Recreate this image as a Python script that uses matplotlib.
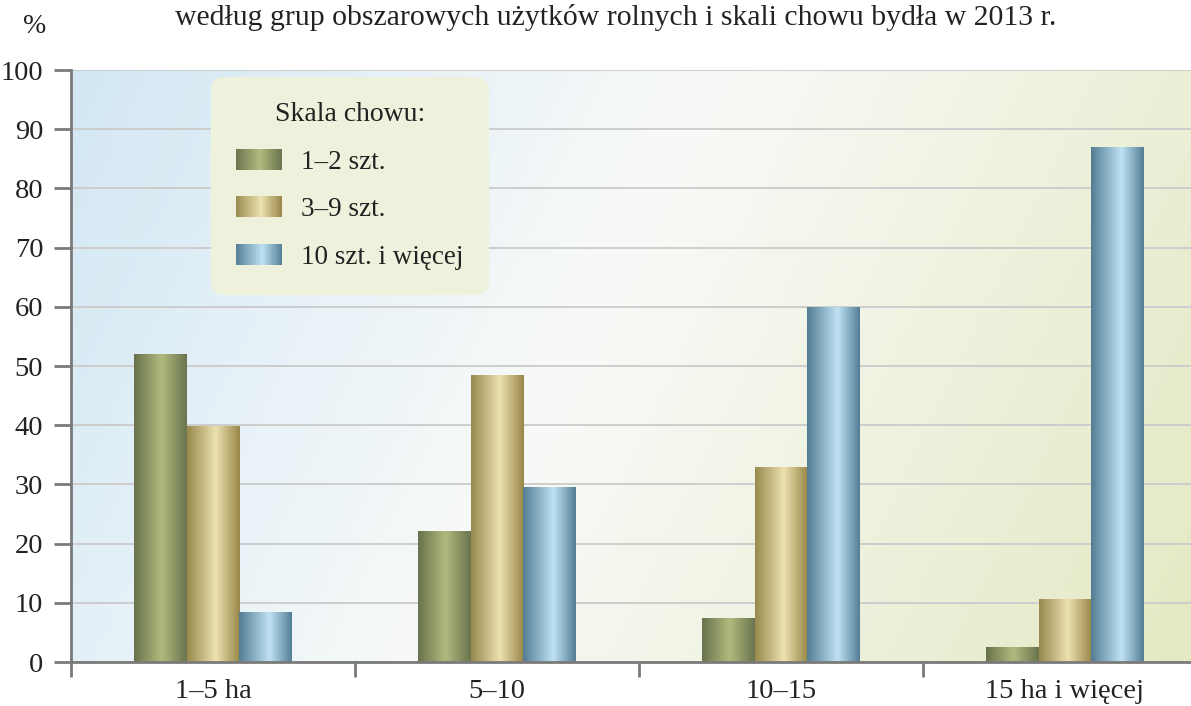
import numpy as np
import matplotlib
matplotlib.use("Agg")
import matplotlib.pyplot as plt
from matplotlib.colors import LinearSegmentedColormap
from matplotlib.legend_handler import HandlerBase
from matplotlib.patches import Rectangle

plt.rcParams['font.family'] = ['Liberation Serif', 'DejaVu Serif']

categories = ['1–5 ha', '5–10', '10–15', '15 ha i więcej']
series_labels = ['1–2 szt.', '3–9 szt.', '10 szt. i więcej']
small_herd = [52.1, 22.2, 7.5, 2.5]
mid_herd = [39.8, 48.4, 33.0, 10.7]
large_herd = [8.5, 29.5, 60.0, 87.0]
yticks = list(range(0, 101, 10))

title = 'według grup obszarowych użytków rolnych i skali chowu bydła w 2013 r.'

cmaps = [
    LinearSegmentedColormap.from_list('g', [(0, '#69734d'), (0.52, '#b1ba7d'), (1, '#6b754f')]),
    LinearSegmentedColormap.from_list('b', [(0, '#9a8a4f'), (0.55, '#ece1b0'), (1, '#988748')]),
    LinearSegmentedColormap.from_list('c', [(0, '#547d94'), (0.58, '#bfe2f3'), (1, '#557f97')]),
]
bg_cmap = LinearSegmentedColormap.from_list(
    'bg', [(0, '#d2e7f3'), (0.2, '#e4f0f7'), (0.45, '#f8faf8'), (1, '#e3e9c2')])


class GradientHandler(HandlerBase):
    def __init__(self, cmap):
        super().__init__()
        self.cmap = cmap

    def create_artists(self, legend, orig_handle, xdescent, ydescent,
                       width, height, fontsize, trans):
        n = 30
        arts = []
        for i in range(n):
            r = Rectangle((-xdescent + width * i / n, -ydescent), width / n + 0.3, height,
                          facecolor=self.cmap((i + 0.5) / n), edgecolor='none',
                          transform=trans)
            arts.append(r)
        return arts


fig = plt.figure(figsize=(11.91, 7.06), dpi=100)
ax = fig.add_axes([71 / 1191, 44 / 706, 1136 / 1191, 592 / 706])

# background gradient: blue top-left -> white -> yellow-green bottom-right
gx, gy = np.meshgrid(np.linspace(0, 1, 300), np.linspace(0, 1, 200))
t = 0.8 * gx + 0.2 * gy
ax.imshow(t, cmap=bg_cmap, extent=[0, 1, 0, 1], transform=ax.transAxes,
          aspect='auto', zorder=0, vmin=0, vmax=1)

x = np.arange(len(categories))
w = 0.1855
containers = []
for k, vals in enumerate([small_herd, mid_herd, large_herd]):
    bars = ax.bar(x + (k - 1) * w, vals, w, color='none', edgecolor='none',
                  zorder=2, label=series_labels[k])
    containers.append(bars)
    grad = np.linspace(0, 1, 100).reshape(1, -1)
    for b in bars:
        x0, y0 = b.get_x(), b.get_y()
        im = ax.imshow(grad, cmap=cmaps[k], extent=[x0, x0 + b.get_width(), y0, y0 + b.get_height()],
                       aspect='auto', zorder=2.1, vmin=0, vmax=1)
        im.set_clip_path(b)

ax.set_xlim(-0.5, len(categories) - 0.5)
ax.set_ylim(0, 100)
ax.set_yticks(yticks)
ax.set_xticks(x)
ax.set_xticklabels(categories)
ax.set_xticks(np.arange(len(categories) + 1) - 0.5, minor=True)
ax.tick_params(axis='x', which='major', length=0, pad=12, labelsize=20.5, colors='#222222')
ax.tick_params(axis='x', which='minor', length=11, width=2, color='#7a7a7a', direction='out')
ax.tick_params(axis='y', length=12, width=2, color='#7a7a7a', pad=8, labelsize=20.5,
               labelcolor='#222222')

ax.yaxis.grid(True, color='#cdcdcd', linewidth=1.4)
ax.set_axisbelow(True)
for side in ['top', 'right']:
    ax.spines[side].set_visible(False)
for side in ['left', 'bottom']:
    ax.spines[side].set_color('#7a7a7a')
    ax.spines[side].set_linewidth(2)

leg = ax.legend(handles=containers, title='Skala chowu:', loc='upper left',
                bbox_to_anchor=(0.123, 0.988), fontsize=19.5, title_fontsize=20,
                handler_map={c: GradientHandler(cmaps[i]) for i, c in enumerate(containers)},
                handlelength=1.7, handleheight=0.82, labelspacing=0.8,
                handletextpad=0.72, borderpad=0.92, borderaxespad=0,
                fancybox=True, framealpha=1)
leg.get_frame().set_facecolor('#eef2dc')
leg.get_frame().set_edgecolor('none')
leg.get_frame().set_boxstyle('round,pad=0,rounding_size=0.5')
leg.get_title().set_color('#222222')
for txt in leg.get_texts():
    txt.set_color('#222222')
leg.set_zorder(5)

fig.text(0.517, 1 - 25 / 706, title, ha='center', va='baseline', fontsize=21.4, color='#222222')
fig.text(35 / 1191, 1 - 33 / 706, '%', ha='center', va='baseline', fontsize=20, color='#222222')

fig.savefig('out.png', dpi=100)
